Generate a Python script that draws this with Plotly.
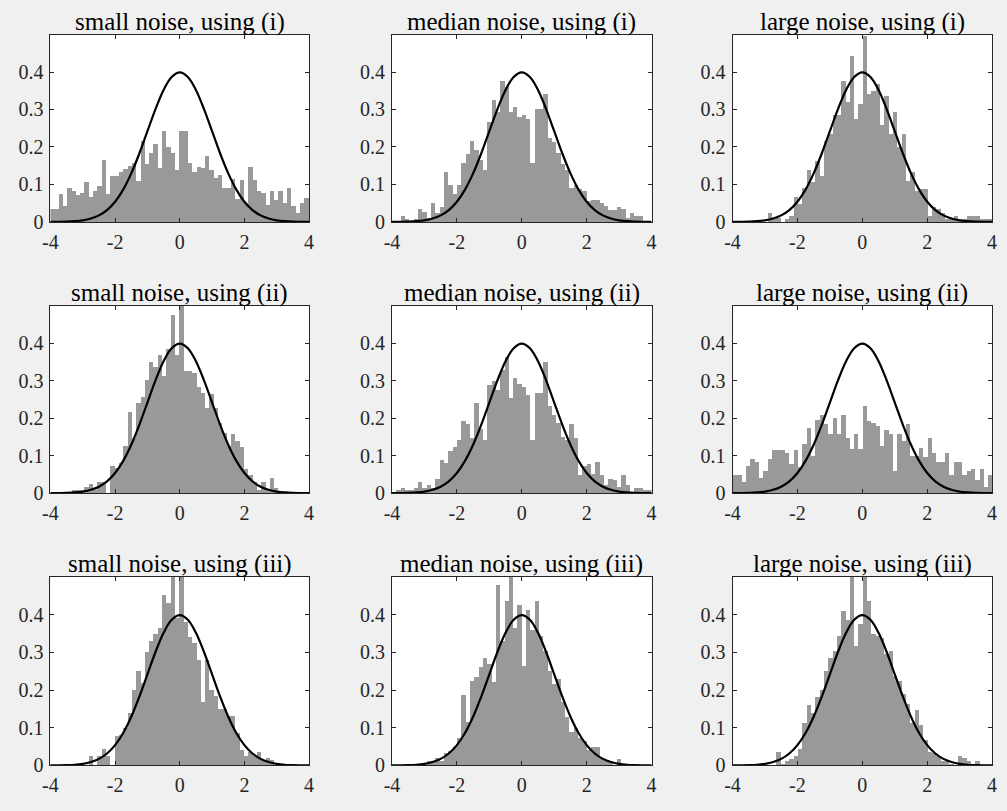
import numpy as np
import plotly.graph_objects as go

# ---------------- data ----------------
x_range = (-4.0, 4.0)
n_bins = 60

small_i = [0.035, 0.035, 0.077, 0.044, 0.092, 0.085, 0.073, 0.079, 0.107, 0.069,
           0.085, 0.098, 0.166, 0.077, 0.123, 0.123, 0.134, 0.142, 0.151, 0.158,
           0.110, 0.218, 0.157, 0.185, 0.209, 0.145, 0.244, 0.202, 0.185, 0.141,
           0.244, 0.244, 0.158, 0.134, 0.149, 0.145, 0.176, 0.141, 0.119, 0.127,
           0.092, 0.092, 0.117, 0.062, 0.114, 0.053, 0.149, 0.113, 0.084, 0.079,
           0.046, 0.085, 0.059, 0.085, 0.053, 0.092, 0.044, 0.026, 0.053, 0.066]

median_i = [0.0, 0.0, 0.018, 0.010, 0.0, 0.010, 0.035, 0.028, 0.013, 0.051,
            0.026, 0.042, 0.134, 0.101, 0.077, 0.101, 0.158, 0.183, 0.218, 0.193,
            0.167, 0.141, 0.268, 0.327, 0.295, 0.376, 0.360, 0.295, 0.308, 0.281,
            0.286, 0.277, 0.158, 0.303, 0.303, 0.343, 0.224, 0.215, 0.185, 0.156,
            0.141, 0.092, 0.101, 0.088, 0.084, 0.057, 0.059, 0.059, 0.051, 0.044,
            0.033, 0.033, 0.042, 0.035, 0.013, 0.025, 0.016, 0.016, 0.0, 0.0]

large_i = [0.0, 0.0, 0.0, 0.0, 0.0, 0.0, 0.0, 0.0, 0.026, 0.010,
           0.013, 0.0, 0.009, 0.016, 0.068, 0.048, 0.092, 0.141, 0.107, 0.165,
           0.125, 0.216, 0.235, 0.287, 0.287, 0.376, 0.320, 0.444, 0.277, 0.317,
           0.497, 0.343, 0.350, 0.369, 0.260, 0.338, 0.237, 0.295, 0.202, 0.237,
           0.110, 0.134, 0.084, 0.090, 0.090, 0.018, 0.042, 0.037, 0.025, 0.009,
           0.009, 0.016, 0.009, 0.009, 0.016, 0.016, 0.016, 0.009, 0.009, 0.009]

small_ii = [0.0, 0.0, 0.0, 0.0, 0.0, 0.009, 0.009, 0.010, 0.018, 0.024,
            0.009, 0.031, 0.031, 0.0, 0.074, 0.067, 0.081, 0.127, 0.217, 0.147,
            0.241, 0.258, 0.302, 0.350, 0.337, 0.368, 0.312, 0.385, 0.477, 0.368,
            0.520, 0.326, 0.326, 0.320, 0.284, 0.267, 0.228, 0.265, 0.228, 0.188,
            0.162, 0.127, 0.158, 0.140, 0.125, 0.066, 0.048, 0.031, 0.009, 0.031,
            0.009, 0.041, 0.015, 0.0, 0.0, 0.0, 0.0, 0.0, 0.0, 0.0]

median_ii = [0.0, 0.009, 0.015, 0.009, 0.010, 0.015, 0.031, 0.015, 0.022, 0.015,
             0.039, 0.090, 0.081, 0.114, 0.123, 0.143, 0.193, 0.186, 0.149, 0.241,
             0.171, 0.143, 0.289, 0.299, 0.276, 0.328, 0.363, 0.254, 0.308, 0.293,
             0.285, 0.263, 0.143, 0.267, 0.267, 0.350, 0.232, 0.210, 0.188, 0.151,
             0.143, 0.184, 0.149, 0.048, 0.074, 0.079, 0.053, 0.083, 0.048, 0.022,
             0.039, 0.035, 0.018, 0.048, 0.022, 0.0, 0.015, 0.015, 0.009, 0.009]

large_ii = [0.048, 0.048, 0.031, 0.074, 0.092, 0.083, 0.041, 0.059, 0.092, 0.116,
            0.116, 0.116, 0.109, 0.079, 0.116, 0.070, 0.133, 0.175, 0.100, 0.197,
            0.210, 0.184, 0.159, 0.200, 0.159, 0.210, 0.149, 0.118, 0.158, 0.118,
            0.232, 0.193, 0.188, 0.179, 0.127, 0.168, 0.158, 0.061, 0.159, 0.140,
            0.184, 0.100, 0.100, 0.121, 0.096, 0.149, 0.109, 0.083, 0.083, 0.109,
            0.048, 0.083, 0.083, 0.048, 0.059, 0.066, 0.035, 0.066, 0.016, 0.048]

small_iii = [0.0, 0.0, 0.0, 0.0, 0.0, 0.0, 0.0, 0.0, 0.0, 0.026,
             0.0, 0.026, 0.044, 0.026, 0.0, 0.077, 0.080, 0.100, 0.140, 0.200,
             0.250, 0.220, 0.300, 0.330, 0.350, 0.365, 0.453, 0.430, 0.520, 0.390,
             0.520, 0.380, 0.340, 0.325, 0.280, 0.168, 0.280, 0.200, 0.185, 0.150,
             0.150, 0.130, 0.130, 0.085, 0.040, 0.025, 0.035, 0.025, 0.035, 0.015,
             0.020, 0.015, 0.0, 0.0, 0.0, 0.0, 0.0, 0.0, 0.0, 0.0]

median_iii = [0.0, 0.0, 0.0, 0.0, 0.0, 0.0, 0.0, 0.005, 0.011, 0.011,
              0.020, 0.011, 0.033, 0.038, 0.050, 0.072, 0.186, 0.116, 0.225, 0.234,
              0.260, 0.286, 0.269, 0.221, 0.478, 0.330, 0.435, 0.520, 0.365, 0.426,
              0.265, 0.413, 0.359, 0.435, 0.343, 0.304, 0.251, 0.217, 0.230, 0.169,
              0.129, 0.090, 0.099, 0.072, 0.064, 0.042, 0.050, 0.050, 0.020, 0.011,
              0.011, 0.0, 0.017, 0.0, 0.0, 0.0, 0.0, 0.0, 0.0, 0.0]

large_iii = [0.0, 0.0, 0.0, 0.0, 0.0, 0.0, 0.0, 0.0, 0.0, 0.0,
             0.035, 0.005, 0.011, 0.017, 0.024, 0.044, 0.112, 0.160, 0.138, 0.182,
             0.200, 0.251, 0.284, 0.304, 0.343, 0.409, 0.387, 0.520, 0.317, 0.374,
             0.520, 0.435, 0.348, 0.343, 0.339, 0.295, 0.304, 0.238, 0.225, 0.190,
             0.164, 0.112, 0.147, 0.107, 0.068, 0.035, 0.033, 0.026, 0.011, 0.011,
             0.005, 0.0, 0.026, 0.020, 0.011, 0.005, 0.011, 0.0, 0.0, 0.0]

# reference density curve, read at steps of 0.25
curve_x = [-4.0, -3.75, -3.5, -3.25, -3.0, -2.75, -2.5, -2.25, -2.0, -1.75, -1.5,
           -1.25, -1.0, -0.75, -0.5, -0.25, 0.0, 0.25, 0.5, 0.75, 1.0, 1.25, 1.5,
           1.75, 2.0, 2.25, 2.5, 2.75, 3.0, 3.25, 3.5, 3.75, 4.0]
curve_y = [0.0001, 0.0004, 0.0009, 0.0020, 0.0044, 0.0091, 0.0175, 0.0317, 0.0540,
           0.0863, 0.1295, 0.1826, 0.2420, 0.3011, 0.3521, 0.3867, 0.3989, 0.3867,
           0.3521, 0.3011, 0.2420, 0.1826, 0.1295, 0.0863, 0.0540, 0.0317, 0.0175,
           0.0091, 0.0044, 0.0020, 0.0009, 0.0004, 0.0001]

x_tick_vals = [-4, -2, 0, 2, 4]
x_tick_text = ["-4", "-2", "0", "2", "4"]
y_tick_vals = [0, 0.1, 0.2, 0.3, 0.4]
y_tick_text = ["0", "0.1", "0.2", "0.3", "0.4"]

titles = [
    ["small noise, using (i)", "median noise, using (i)", "large noise, using (i)"],
    ["small noise, using (ii)", "median noise, using (ii)", "large noise, using (ii)"],
    ["small noise, using (iii)", "median noise, using (iii)", "large noise, using (iii)"],
]
panels = [
    [small_i, median_i, large_i],
    [small_ii, median_ii, large_ii],
    [small_iii, median_iii, large_iii],
]

# ---------------- layout geometry (reference pixel frame 1007 x 811) ----------------
W, H = 1007, 811
col_px = [(43, 305), (389, 652), (734, 997)]
row_px = [(35, 225), (310, 500), (585, 776)]
title_gap = 13   # title centre sits this many px above the top of its axes

edges = np.linspace(x_range[0], x_range[1], n_bins + 1)
centers = (edges[:-1] + edges[1:]) / 2
bw = edges[1] - edges[0]

FONT = "Liberation Serif, Times New Roman, serif"
fig = go.Figure()
layout = dict(
    width=W, height=H, autosize=False,
    margin=dict(l=0, r=0, t=0, b=0, pad=0),
    paper_bgcolor="#f0f0f0",
    plot_bgcolor="white",
    showlegend=False,
    bargap=0,
    font=dict(family=FONT, size=20, color="#262626"),
    annotations=[],
)

k = 0
for r in range(3):
    for c in range(3):
        k += 1
        xa = "x" if k == 1 else f"x{k}"
        ya = "y" if k == 1 else f"y{k}"
        fig.add_trace(go.Bar(
            x=centers, y=panels[r][c], width=bw,
            marker=dict(color="#999999", line=dict(width=0)),
            xaxis=xa, yaxis=ya, hoverinfo="skip",
        ))
        fig.add_trace(go.Scatter(
            x=curve_x, y=curve_y, mode="lines",
            line=dict(color="black", width=2.2, shape="spline", smoothing=1.0),
            xaxis=xa, yaxis=ya, hoverinfo="skip",
        ))
        x0, x1 = col_px[c]
        y0, y1 = row_px[r]
        axcommon = dict(showline=True, linecolor="#262626", linewidth=1,
                        mirror="ticks", ticks="inside", ticklen=4,
                        tickcolor="#262626", showgrid=False, zeroline=False,
                        tickfont=dict(family=FONT, size=20, color="#262626"))
        layout[f"xaxis{'' if k == 1 else k}"] = dict(
            domain=[x0 / W, x1 / W], range=[-4, 4],
            tickvals=x_tick_vals, ticktext=x_tick_text,
            anchor=ya, ticklabelstandoff=2, **axcommon)
        layout[f"yaxis{'' if k == 1 else k}"] = dict(
            domain=[1 - y1 / H, 1 - y0 / H], range=[0, 0.5],
            tickvals=y_tick_vals, ticktext=y_tick_text,
            anchor=xa, ticklabelstandoff=2, **axcommon)
        layout["annotations"].append(dict(
            text=titles[r][c], xref="paper", yref="paper",
            x=(x0 + x1) / 2 / W, y=1 - (y0 - title_gap) / H,
            xanchor="center", yanchor="middle", showarrow=False,
            font=dict(family=FONT, size=25, color="black"),
        ))

fig.update_layout(**layout)
fig.write_html(
    "out.html",
    config={"displayModeBar": False},
    post_script=(
        "document.documentElement.style.margin='0';"
        "document.documentElement.style.overflow='hidden';"
        "document.body.style.margin='0';"
        "document.body.style.overflow='hidden';"
        "var gd=document.getElementById('{plot_id}');"
        "gd.style.position='fixed';gd.style.left='0px';gd.style.top='0px';"
    ),
)
